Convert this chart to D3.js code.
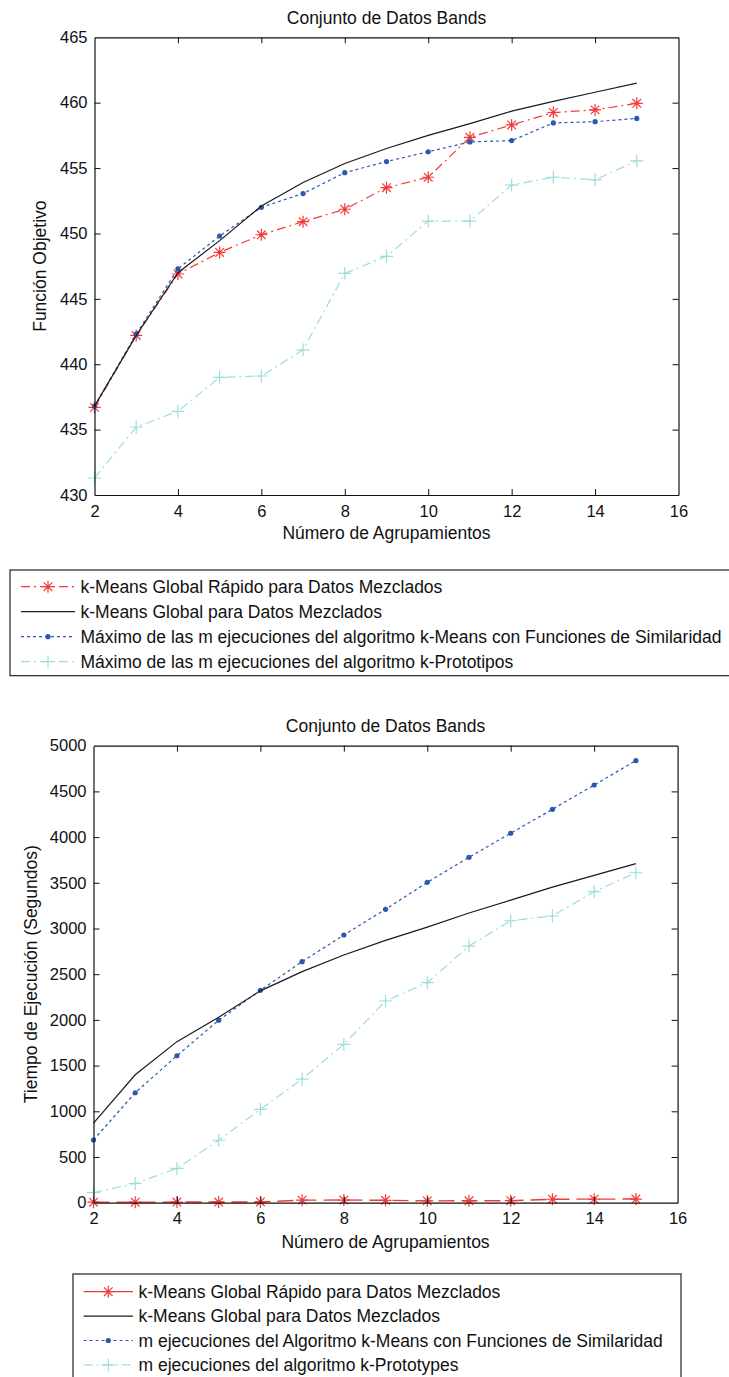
<!DOCTYPE html>
<html>
<head>
<meta charset="utf-8">
<script src="https://cdn.jsdelivr.net/npm/d3@7"></script>
<style>
  html, body { margin: 0; padding: 0; background: #fff; }
  svg { display: block; }
  text { font-family: "Liberation Sans", Arial, sans-serif; fill: #111; }
</style>
</head>
<body>
<svg id="fig" width="729" height="1377"></svg>
<script>
// Número de agrupamientos (k)
const clusters = [2, 3, 4, 5, 6, 7, 8, 9, 10, 11, 12, 13, 14, 15];

// Función objetivo
const objRapido    = [436.7, 442.2, 446.9, 448.55, 449.9, 450.9, 451.85, 453.5, 454.3, 457.35, 458.3, 459.25, 459.45, 459.95];
const objGlobal    = [436.8, 442.2, 447.0, 449.45, 452.1, 453.9, 455.35, 456.5, 457.5, 458.4, 459.35, 460.1, 460.8, 461.5];
const objSimilar   = [436.8, 442.3, 447.3, 449.8, 452.0, 453.05, 454.65, 455.5, 456.25, 457.0, 457.1, 458.45, 458.55, 458.8];
const objPrototipo = [431.3, 435.2, 436.4, 439.0, 439.1, 441.1, 446.95, 448.25, 450.95, 450.95, 453.7, 454.3, 454.1, 455.55];

// Tiempo de ejecución (segundos)
const timeRapido    = [6, 6, 7, 7, 8, 28, 29, 26, 20, 21, 22, 38, 39, 40];
const timeGlobal    = [870, 1400, 1762, 2030, 2318, 2528, 2710, 2870, 3015, 3170, 3310, 3452, 3582, 3710];
const timeSimilar   = [686, 1203, 1608, 1996, 2324, 2637, 2929, 3210, 3505, 3779, 4042, 4304, 4570, 4836];
const timePrototipo = [110, 210, 375, 683, 1022, 1352, 1733, 2207, 2407, 2808, 3085, 3137, 3403, 3610];

const xTicks = [2, 4, 6, 8, 10, 12, 14, 16];
const yTicksObj = [430, 435, 440, 445, 450, 455, 460, 465];
const yTicksTime = [0, 500, 1000, 1500, 2000, 2500, 3000, 3500, 4000, 4500, 5000];

const chartTitle = "Conjunto de Datos Bands";
const xTitle = "Número de Agrupamientos";

const legendObj = [
  "k-Means Global Rápido para Datos Mezclados",
  "k-Means Global para Datos Mezclados",
  "Máximo de las m ejecuciones del algoritmo k-Means con Funciones de Similaridad",
  "Máximo de las m ejecuciones del algoritmo k-Prototipos"
];
const legendTime = [
  "k-Means Global Rápido para Datos Mezclados",
  "k-Means Global para Datos Mezclados",
  "m ejecuciones del Algoritmo k-Means con Funciones de Similaridad",
  "m ejecuciones del algoritmo k-Prototypes"
];

const RED = "#f23a3a", BLACK = "#1a1a1a", BLUE = "#2a58b0", CYAN = "#9fdcdc";
const FONT = 17.5;

const svg = d3.select("#fig");

function drawMarker(g, type, x, y, color) {
  if (type === "star") {
    const a = 6, b = 4.3;
    const p = `M${x - a},${y}L${x + a},${y}M${x},${y - a}L${x},${y + a}` +
              `M${x - b},${y - b}L${x + b},${y + b}M${x - b},${y + b}L${x + b},${y - b}`;
    g.append("path").attr("d", p).attr("stroke", color).attr("stroke-width", 1.2).attr("fill", "none");
  } else if (type === "plus") {
    const a = 6.5;
    g.append("path").attr("d", `M${x - a},${y}L${x + a},${y}M${x},${y - a}L${x},${y + a}`)
      .attr("stroke", color).attr("stroke-width", 1.2).attr("fill", "none");
  } else if (type === "dot") {
    g.append("circle").attr("cx", x).attr("cy", y).attr("r", 2.6).attr("fill", color);
  }
}

function drawPanel(cfg) {
  const x = d3.scaleLinear().domain([2, 16]).range([cfg.left, cfg.right]);
  const y = d3.scaleLinear().domain(cfg.yDomain).range([cfg.bottom, cfg.top]);
  const g = svg.append("g");

  // series
  cfg.series.forEach(s => {
    const line = d3.line().x((d, i) => x(clusters[i])).y(d => y(d));
    g.append("path").datum(s.values).attr("d", line)
      .attr("fill", "none").attr("stroke", s.color).attr("stroke-width", s.width || 1.2)
      .attr("stroke-dasharray", s.dash || null);
    if (s.marker) {
      const mg = g.append("g");
      s.values.forEach((v, i) => drawMarker(mg, s.marker, x(clusters[i]), y(v), s.color));
    }
  });

  // axes box with inward ticks
  const tick = 6;
  const axisG = g.append("g");
  const bottomAxis = d3.axisBottom(x).tickValues(xTicks).tickSizeInner(-tick).tickSizeOuter(0).tickPadding(10).tickFormat(d3.format("d"));
  const topAxis = d3.axisTop(x).tickValues(xTicks).tickSizeInner(-tick).tickSizeOuter(0).tickFormat("");
  const leftAxis = d3.axisLeft(y).tickValues(cfg.yTicks).tickSizeInner(-tick).tickSizeOuter(0).tickPadding(7).tickFormat(d3.format("d"));
  const rightAxis = d3.axisRight(y).tickValues(cfg.yTicks).tickSizeInner(-tick).tickSizeOuter(0).tickFormat("");

  axisG.append("g").attr("transform", `translate(0,${cfg.bottom})`).call(bottomAxis);
  axisG.append("g").attr("transform", `translate(0,${cfg.top})`).call(topAxis);
  axisG.append("g").attr("transform", `translate(${cfg.left},0)`).call(leftAxis);
  axisG.append("g").attr("transform", `translate(${cfg.right},0)`).call(rightAxis);
  axisG.selectAll(".domain").attr("stroke", "#111").attr("stroke-width", 1.2);
  axisG.selectAll(".tick line").attr("stroke", "#111").attr("stroke-width", 1);
  axisG.selectAll(".tick text").attr("font-size", 16.5).attr("fill", "#111")
    .attr("font-family", "'Liberation Sans', Arial, sans-serif");
  // endpoint ticks sit on the box corners; hide duplicated edge tick marks
  axisG.selectAll(".tick").filter(d => d === 2 || d === 16 || d === cfg.yDomain[0] || d === cfg.yDomain[1])
    .select("line").attr("stroke-opacity", 0);

  // titles
  const cx = (cfg.left + cfg.right) / 2;
  g.append("text").attr("x", cx).attr("y", cfg.titleY).attr("dy", "0.35em")
    .attr("text-anchor", "middle").attr("font-size", FONT).text(chartTitle);
  g.append("text").attr("x", cx).attr("y", cfg.xLabelY).attr("dy", "0.35em")
    .attr("text-anchor", "middle").attr("font-size", FONT).text(xTitle);
  g.append("text").attr("transform", `translate(${cfg.yLabelX},${(cfg.top + cfg.bottom) / 2}) rotate(-90)`)
    .attr("dy", "0.35em").attr("text-anchor", "middle").attr("font-size", FONT).text(cfg.yLabel);
}

function drawLegend(cfg) {
  const g = svg.append("g");
  g.append("rect").attr("x", cfg.x).attr("y", cfg.y).attr("width", cfg.w).attr("height", cfg.h)
    .attr("fill", "#fff").attr("stroke", "#222").attr("stroke-width", 1.2);
  cfg.items.forEach((it, i) => {
    const yy = cfg.firstRow + i * cfg.rowStep;
    g.append("line").attr("x1", cfg.lineX1).attr("x2", cfg.lineX2).attr("y1", yy).attr("y2", yy)
      .attr("stroke", it.color).attr("stroke-width", 1.2).attr("stroke-dasharray", it.dash || null);
    if (it.marker) drawMarker(g, it.marker, (cfg.lineX1 + cfg.lineX2) / 2, yy, it.color);
    g.append("text").attr("x", cfg.textX).attr("y", yy).attr("dy", "0.35em")
      .attr("font-size", FONT).text(it.label);
  });
}

// Panel 1: función objetivo
drawPanel({
  left: 94.5, right: 678.5, top: 37.3, bottom: 495,
  yDomain: [430, 465], yTicks: yTicksObj,
  titleY: 17.5, xLabelY: 533, yLabelX: 40,
  yLabel: "Función Objetivo",
  series: [
    { values: objPrototipo, color: CYAN, dash: "9,4,2,4", marker: "plus" },
    { values: objRapido, color: RED, dash: "9,4,2,4", marker: "star" },
    { values: objSimilar, color: BLUE, dash: "3,3", marker: "dot" },
    { values: objGlobal, color: BLACK }
  ]
});

drawLegend({
  x: 10, y: 570, w: 740, h: 105.7,
  firstRow: 586.7, rowStep: 25,
  lineX1: 21, lineX2: 75, textX: 80.5,
  items: [
    { label: legendObj[0], color: RED, dash: "9,4,2,4", marker: "star" },
    { label: legendObj[1], color: BLACK },
    { label: legendObj[2], color: BLUE, dash: "3,3", marker: "dot" },
    { label: legendObj[3], color: CYAN, dash: "9,4,2,4", marker: "plus" }
  ]
});

// Panel 2: tiempo de ejecución
drawPanel({
  left: 93.5, right: 677.6, top: 745.7, bottom: 1202.7,
  yDomain: [0, 5000], yTicks: yTicksTime,
  titleY: 726, xLabelY: 1241.7, yLabelX: 31,
  yLabel: "Tiempo de Ejecución (Segundos)",
  series: [
    { values: timePrototipo, color: CYAN, dash: "9,4,2,4", marker: "plus" },
    { values: timeSimilar, color: BLUE, dash: "3,3", marker: "dot" },
    { values: timeGlobal, color: BLACK },
    { values: timeRapido, color: RED, dash: "16,7", marker: "star", width: 1.4 }
  ]
});

drawLegend({
  x: 73, y: 1274, w: 608, h: 105,
  firstRow: 1291.7, rowStep: 24.4,
  lineX1: 83.6, lineX2: 133, textX: 138.5,
  items: [
    { label: legendTime[0], color: RED, marker: "star" },
    { label: legendTime[1], color: BLACK },
    { label: legendTime[2], color: BLUE, dash: "3,3", marker: "dot" },
    { label: legendTime[3], color: CYAN, dash: "9,4,2,4", marker: "plus" }
  ]
});
</script>
</body>
</html>
